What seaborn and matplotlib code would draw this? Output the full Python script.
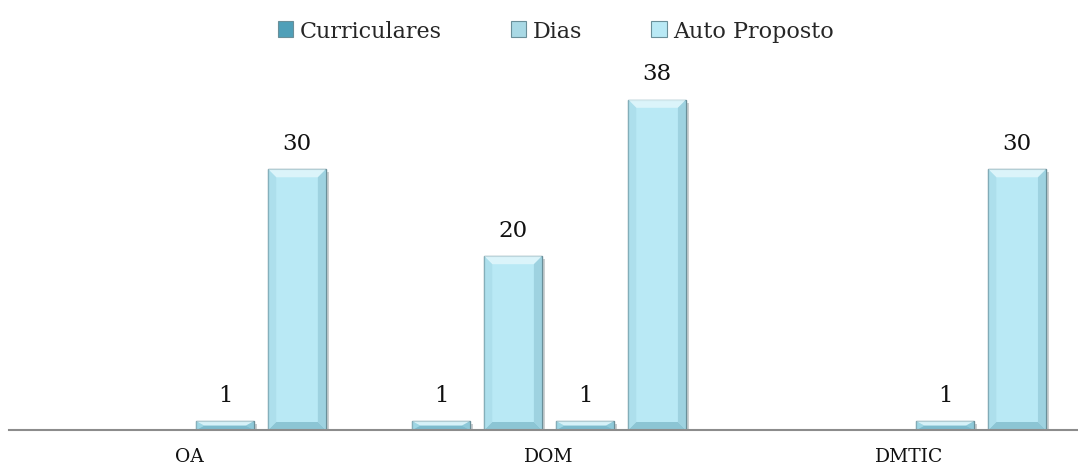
import numpy as np
import pandas as pd
import matplotlib
matplotlib.use("Agg")
import matplotlib.pyplot as plt
import matplotlib.patheffects as pe
from matplotlib.patches import Patch, Polygon
import seaborn as sns

categories = ["OA", "DOM", "DMTIC"]
series = ["Curriculares", "Dias", "Auto Proposto", "Dias (Auto Proposto)"]
curriculares = [np.nan, 1, np.nan]
dias_curriculares = [np.nan, 20, np.nan]
auto_proposto = [1, 1, 1]
dias_auto_proposto = [30, 38, 30]
legend_series = ["Curriculares", "Dias", "Auto Proposto"]

colors = {
    "Curriculares": "#94d2e2",
    "Dias": "#b9e9f5",
    "Auto Proposto": "#94d2e2",
    "Dias (Auto Proposto)": "#b9e9f5",
}
legend_colors = {"Curriculares": "#4f9fb8", "Dias": "#a9d9e5", "Auto Proposto": "#b9e9f5"}

rows = []
for name, vals in zip(series, [curriculares, dias_curriculares, auto_proposto, dias_auto_proposto]):
    for cat, v in zip(categories, vals):
        rows.append({"categoria": cat, "serie": name, "valor": v})
df = pd.DataFrame(rows).dropna()

sns.set_theme(style="white")
plt.rcParams["font.family"] = ["DejaVu Serif"]

fig = plt.figure(figsize=(10.78, 4.77), dpi=100)
ax = fig.add_axes([9 / 1078, 46 / 477, 1 - 9 / 1078, 365 / 477])

sns.barplot(
    data=df, x="categoria", y="valor", hue="serie",
    order=categories, hue_order=series, palette=colors, saturation=1,
    width=0.8, gap=0.2, dodge=True, errorbar=None,
    edgecolor="#6a8f99", linewidth=1.0, legend=False, ax=ax,
)

ax.set_xlim(-0.5, 2.469)
ax.set_ylim(0, 42)

# bevelled look: light top facet, darker bottom and side facets
fig.canvas.draw()
bbox = ax.get_window_extent()
px_x = bbox.width / (ax.get_xlim()[1] - ax.get_xlim()[0])
px_y = bbox.height / (ax.get_ylim()[1] - ax.get_ylim()[0])
bevel_px = 8
for patch in list(ax.patches):
    x0, y0 = patch.get_x(), patch.get_y()
    w, h = patch.get_width(), patch.get_height()
    if not np.isfinite(h) or h <= 0:
        continue
    patch.set_path_effects([pe.SimplePatchShadow(offset=(2, -2), alpha=0.25), pe.Normal()])
    dx = min(bevel_px / px_x, w / 2)
    dy = min(bevel_px / px_y, h / 2)
    x1, y1 = x0 + w, y0 + h
    facets = [
        ([(x0, y1), (x1, y1), (x1 - dx, y1 - dy), (x0 + dx, y1 - dy)], "#e2f7fc", 0.85),
        ([(x0, y0), (x1, y0), (x1 - dx, y0 + dy), (x0 + dx, y0 + dy)], "#6fadbf", 0.6),
        ([(x0, y0), (x0 + dx, y0 + dy), (x0 + dx, y1 - dy), (x0, y1)], "#a6d9e6", 0.6),
        ([(x1, y0), (x1 - dx, y0 + dy), (x1 - dx, y1 - dy), (x1, y1)], "#8cc4d3", 0.6),
    ]
    for pts, col, a in facets:
        ax.add_patch(Polygon(pts, closed=True, facecolor=col, edgecolor="none", alpha=a, zorder=patch.get_zorder() + 0.1))

for cont in ax.containers:
    ax.bar_label(cont, fmt="%g", padding=11, fontsize=16.5, color="#111111")

ax.set_xlabel("")
ax.set_ylabel("")
ax.set_yticks([])
ax.tick_params(axis="x", length=0, pad=12, labelsize=13.5, colors="#111111")
for side in ["top", "right", "left"]:
    ax.spines[side].set_visible(False)
ax.spines["bottom"].set_color("#8c8c8c")
ax.spines["bottom"].set_linewidth(1.5)

handles = [Patch(facecolor=legend_colors[s], edgecolor="#6a8f99", linewidth=0.8, label=s) for s in legend_series]
fig.legend(
    handles=handles, loc="center", bbox_to_anchor=(556 / 1078, 1 - 32 / 477),
    ncol=3, frameon=False, fontsize=16, handlelength=0.7, handleheight=0.7,
    handletextpad=0.3, columnspacing=3.1,
)

fig.savefig("out.png", dpi=100)
